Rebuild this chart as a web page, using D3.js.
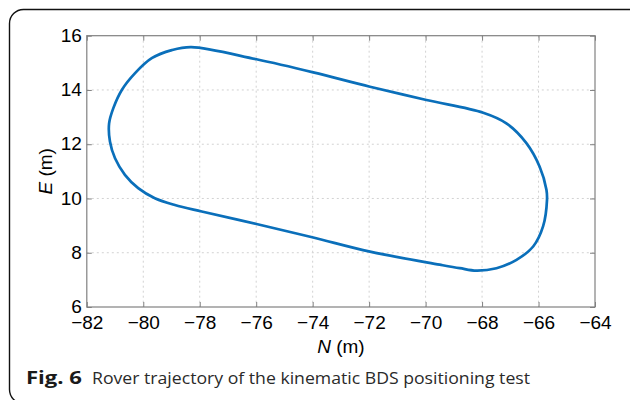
<!DOCTYPE html>
<html>
<head>
<meta charset="utf-8">
<script src="https://cdn.jsdelivr.net/npm/d3@7"></script>
<style>
  body { margin: 0; background: #fff; }
  svg { display: block; }
</style>
</head>
<body>
<div id="container"></div>
<script>
// trajectory (N, E in metres), clockwise from the top
var northVals = [-78.30, -75.99, -73.98, -71.97, -69.97, -67.96, -67.14, -66.43, -65.96,
  -65.72, -65.70, -65.84, -66.19, -66.78, -67.49, -68.20, -68.79, -69.50, -71.97,
  -73.98, -75.99, -77.93, -78.88, -79.59, -80.18, -80.65, -81.0, -81.18, -81.21,
  -81.06, -80.76, -80.29, -79.70, -78.99];
var eastVals = [15.58, 15.13, 14.65, 14.12, 13.63, 13.16, 12.77, 12.04, 11.17,
  10.32, 9.95, 8.97, 8.23, 7.74, 7.43, 7.34, 7.43, 7.56, 8.04,
  8.56, 9.06, 9.52, 9.76, 10.01, 10.38, 10.87, 11.48, 12.10, 12.77,
  13.33, 14.0, 14.62, 15.17, 15.47];

var xTicks = [-82, -80, -78, -76, -74, -72, -70, -68, -66, -64];
var yTicks = [6, 8, 10, 12, 14, 16];

var xLabel = "N";
var yLabel = "E";
var captionBold = "Fig. 6";
var captionText = "Rover trajectory of the kinematic BDS positioning test";

const width = 630;
const height = 400;
const plot = {left: 86.8, right: 595, top: 35.7, bottom: 307};
const tickFont = "'Liberation Sans', Arial, sans-serif";

const svg = d3.select("div#container").append("svg")
    .attr("width", width)
    .attr("height", height);

// frame round the figure
svg.append("rect")
    .attr("x", 9.5)
    .attr("y", 9.5)
    .attr("width", 640)
    .attr("height", 394)
    .attr("rx", 14)
    .attr("fill", "none")
    .attr("stroke", "#111")
    .attr("stroke-width", 1.4);

var xScale = d3.scaleLinear().domain([-82, -64]).range([plot.left, plot.right]);
var yScale = d3.scaleLinear().domain([6, 16]).range([plot.bottom, plot.top]);

//---------------------------GRID-----------------------------//
svg.append("g").selectAll("line")
    .data(xTicks.slice(1, -1))
    .enter().append("line")
    .attr("x1", d => xScale(d)).attr("x2", d => xScale(d))
    .attr("y1", plot.top).attr("y2", plot.bottom)
    .attr("stroke", "#d2d2d2").attr("stroke-dasharray", "2,3");

svg.append("g").selectAll("line")
    .data(yTicks.slice(1, -1))
    .enter().append("line")
    .attr("y1", d => yScale(d)).attr("y2", d => yScale(d))
    .attr("x1", plot.left).attr("x2", plot.right)
    .attr("stroke", "#d2d2d2").attr("stroke-dasharray", "2,3");

//---------------------------AXES-----------------------------//
function styleAxis(g) {
  g.select(".domain").remove();
  g.selectAll(".tick line").attr("stroke", "#808080");
  g.selectAll(".tick text")
      .attr("fill", "#000")
      .style("font-family", tickFont)
      .style("font-size", "19px");
}

// bottom, labelled
svg.append("g")
    .attr("transform", "translate(0," + plot.bottom + ")")
    .call(d3.axisBottom(xScale).tickValues(xTicks).tickSizeInner(-5).tickSizeOuter(0)
        .tickPadding(9).tickFormat(d3.format("d")))
    .call(styleAxis)
    .call(g => g.selectAll(".tick text").attr("dy", "0.71em"));

// left, labelled
svg.append("g")
    .attr("transform", "translate(" + plot.left + ",0)")
    .call(d3.axisLeft(yScale).tickValues(yTicks).tickSizeInner(-5).tickSizeOuter(0)
        .tickPadding(5).tickFormat(d3.format("d")))
    .call(styleAxis)
    .call(g => g.selectAll(".tick text").attr("dy", "0.3em"));

// top and right, ticks only
svg.append("g")
    .attr("transform", "translate(0," + plot.top + ")")
    .call(d3.axisTop(xScale).tickValues(xTicks).tickSizeInner(-5).tickSizeOuter(0).tickFormat(""))
    .call(styleAxis);

svg.append("g")
    .attr("transform", "translate(" + plot.right + ",0)")
    .call(d3.axisRight(yScale).tickValues(yTicks).tickSizeInner(-5).tickSizeOuter(0).tickFormat(""))
    .call(styleAxis);

// box
svg.append("rect")
    .attr("x", plot.left)
    .attr("y", plot.top)
    .attr("width", plot.right - plot.left)
    .attr("height", plot.bottom - plot.top)
    .attr("fill", "none")
    .attr("stroke", "#808080")
    .attr("stroke-width", 1.2);

//---------------------------LINE-----------------------------//
var points = northVals.map((n, i) => [n, eastVals[i]]);

const line = d3.line()
    .x(d => xScale(d[0]))
    .y(d => yScale(d[1]))
    .curve(d3.curveCatmullRomClosed.alpha(0.5));

svg.append("path")
    .datum(points)
    .attr("d", line)
    .attr("fill", "none")
    .attr("stroke", "#0a6fba")
    .attr("stroke-width", 2.7);

//---------------------------LABELS-----------------------------//
var xl = svg.append("text")
    .attr("x", (plot.left + plot.right) / 2)
    .attr("y", 353)
    .attr("text-anchor", "middle")
    .style("font-family", tickFont)
    .style("font-size", "19px");
xl.append("tspan").style("font-style", "italic").text(xLabel);
xl.append("tspan").text(" (m)");

var yl = svg.append("text")
    .attr("transform", "translate(52," + ((plot.top + plot.bottom) / 2) + ") rotate(-90)")
    .attr("text-anchor", "middle")
    .style("font-family", tickFont)
    .style("font-size", "19px");
yl.append("tspan").style("font-style", "italic").text(yLabel);
yl.append("tspan").text(" (m)");

//---------------------------CAPTION-----------------------------//
svg.append("text")
    .attr("x", 26)
    .attr("y", 384)
    .attr("textLength", 56)
    .attr("lengthAdjust", "spacingAndGlyphs")
    .style("font-family", "'Open Sans', 'Noto Sans', sans-serif")
    .style("font-weight", "bold")
    .style("font-size", "17px")
    .attr("fill", "#1a1a1a")
    .text(captionBold);

svg.append("text")
    .attr("x", 92)
    .attr("y", 384)
    .attr("textLength", 438)
    .attr("lengthAdjust", "spacingAndGlyphs")
    .style("font-family", "'Open Sans', 'Noto Sans', sans-serif")
    .style("font-size", "16.5px")
    .attr("fill", "#2a2a2a")
    .text(captionText);
</script>
</body>
</html>
